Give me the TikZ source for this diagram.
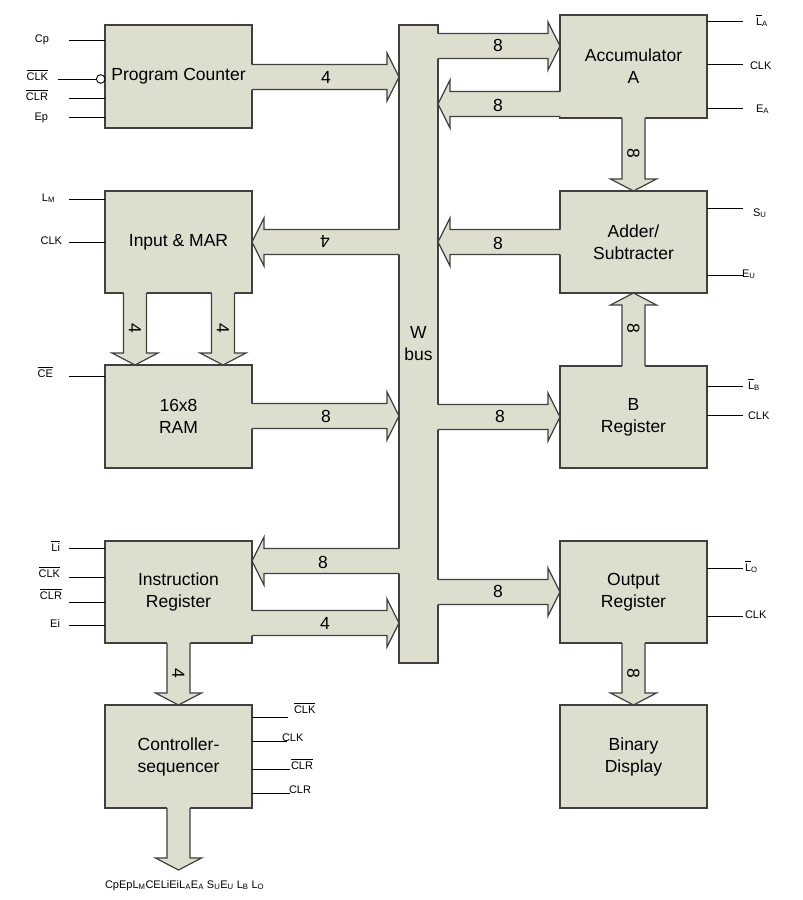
\documentclass[tikz,border=0pt]{standalone}
\usepackage{fontspec}
\setmainfont{Liberation Sans}
\usetikzlibrary{calc}
\definecolor{boxfill}{RGB}{221,222,206}
\definecolor{boxline}{RGB}{64,64,64}
\newcommand\olbar[1]{\vbox{\hrule height 0.6pt\kern1.8pt\hbox{#1}}}
\newcommand\mysub[1]{\textsubscript{#1}}
\def\sh{12.5pt}\def\hh{24pt}\def\hl{12pt}\def\vs{11.5pt}\def\vh{23pt}
\tikzset{
  blk/.style={draw=boxline, fill=boxfill, line width=1.2pt, minimum width=147, minimum height=103,
    anchor=north west, align=center, font=\fontsize{17.5}{22}\selectfont, outer sep=0pt, inner sep=0pt},
  arrfill/.style={fill=boxfill},
  arrline/.style={draw=boxline, line width=1.2pt, line join=miter},
  pin/.style={draw=black, line width=0.9pt},
  pinlbl/.style={font=\fontsize{11}{13}\selectfont, inner sep=0pt, outer sep=0pt},
  lbl/.style={font=\fontsize{17.5}{20}\selectfont, inner sep=0pt}
}
\newcommand\harr[2]{%
  \fill[arrfill] let \p1=#1, \p2=#2, \n1={ifthenelse(\x2>\x1,1,-1)} in
    ({\x1-(\n1)*1.5pt},{\y1+\sh}) -- ({\x2-(\n1)*\hl},{\y1+\sh}) -- ({\x2-(\n1)*\hl},{\y1+\hh})
    -- (\x2,\y1) -- ({\x2-(\n1)*\hl},{\y1-\hh}) -- ({\x2-(\n1)*\hl},{\y1-\sh})
    -- ({\x1-(\n1)*1.5pt},{\y1-\sh}) -- cycle;
  \draw[arrline] let \p1=#1, \p2=#2, \n1={ifthenelse(\x2>\x1,1,-1)} in
    (\x1,{\y1+\sh}) -- ({\x2-(\n1)*\hl},{\y1+\sh}) -- ({\x2-(\n1)*\hl},{\y1+\hh})
    -- (\x2,\y1) -- ({\x2-(\n1)*\hl},{\y1-\hh}) -- ({\x2-(\n1)*\hl},{\y1-\sh})
    -- (\x1,{\y1-\sh});}
\newcommand\varr[2]{%
  \fill[arrfill] let \p1=#1, \p2=#2, \n1={ifthenelse(\y2>\y1,1,-1)} in
    ({\x1+\vs},{\y1-(\n1)*1.5pt}) -- ({\x1+\vs},{\y2-(\n1)*\hl}) -- ({\x1+\vh},{\y2-(\n1)*\hl})
    -- (\x1,\y2) -- ({\x1-\vh},{\y2-(\n1)*\hl}) -- ({\x1-\vs},{\y2-(\n1)*\hl})
    -- ({\x1-\vs},{\y1-(\n1)*1.5pt}) -- cycle;
  \draw[arrline] let \p1=#1, \p2=#2, \n1={ifthenelse(\y2>\y1,1,-1)} in
    ({\x1+\vs},\y1) -- ({\x1+\vs},{\y2-(\n1)*\hl}) -- ({\x1+\vh},{\y2-(\n1)*\hl})
    -- (\x1,\y2) -- ({\x1-\vh},{\y2-(\n1)*\hl}) -- ({\x1-\vs},{\y2-(\n1)*\hl})
    -- ({\x1-\vs},\y1);}
\begin{document}
\begin{tikzpicture}[x=1pt,y=-1pt]
\useasboundingbox (0,0) rectangle (803,900);
\fill[white] (0,0) rectangle (803,900);
% boxes
\node[blk] (pc) at (105,25) {Program Counter};
\node[blk, minimum height=102] (mar) at (105,191) {Input \& MAR};
\node[blk] (ram) at (105,365) {16x8\\RAM};
\node[blk, minimum height=102] (ir) at (105,541) {Instruction\\Register};
\node[blk] (ctrl) at (105,705) {Controller-\\sequencer};
\node[blk, minimum width=39, minimum height=638] (bus) at (399,25) {W\\bus};
\node[blk] (acc) at (560,15) {Accumulator\\A};
\node[blk, minimum height=102] (add) at (560,191) {Adder/\\Subtracter};
\node[blk, minimum height=102] (breg) at (560,366) {B\\Register};
\node[blk, minimum height=102] (out) at (560,541) {Output\\Register};
\node[blk] (disp) at (560,705) {Binary\\Display};
\coordinate (sigs) at (178.5,870);
% block arrows
\harr{(pc.east |- 0,77)}{(bus.west |- 0,77)}
\harr{(bus.west |- 0,242)}{(mar.east |- 0,242)}
\harr{(ram.east |- 0,416)}{(bus.west |- 0,416)}
\harr{(bus.west |- 0,561)}{(ir.east |- 0,561)}
\harr{(ir.east |- 0,623)}{(bus.west |- 0,623)}
\harr{(bus.east |- 0,46)}{(acc.west |- 0,46)}
\harr{(acc.west |- 0,104)}{(bus.east |- 0,104)}
\harr{(add.west |- 0,242)}{(bus.east |- 0,242)}
\harr{(bus.east |- 0,417)}{(breg.west |- 0,417)}
\harr{(bus.east |- 0,592)}{(out.west |- 0,592)}
\varr{(mar.south -| 135,0)}{(ram.north -| 135,0)}
\varr{(mar.south -| 223,0)}{(ram.north -| 223,0)}
\varr{(acc.south)}{(add.north)}
\varr{(breg.north)}{(add.south)}
\varr{(out.south)}{(disp.north)}
\varr{(ir.south)}{(ctrl.north)}
\varr{(ctrl.south)}{(sigs)}
% arrow labels
\node[lbl] (w1) at (326,77) {4};
\node[lbl, rotate=180] (w2) at (325,242) {4};
\node[lbl] (w3) at (326,416) {8};
\node[lbl] (w4) at (323,562) {8};
\node[lbl] (w5) at (325,623) {4};
\node[lbl] (w6) at (498,45) {8};
\node[lbl] (w7) at (498,105) {8};
\node[lbl] (w8) at (498,243) {8};
\node[lbl] (w9) at (500,416) {8};
\node[lbl] (w10) at (498,591) {8};
\node[lbl, rotate=-90] (v1) at (135,328) {4};
\node[lbl, rotate=-90] (v2) at (223,328) {4};
\node[lbl, rotate=-90] (v3) at (633.5,153) {8};
\node[lbl, rotate=-90] (v4) at (633.5,328) {8};
\node[lbl, rotate=-90] (v5) at (633.5,673) {8};
\node[lbl, rotate=-90] (v6) at (178.5,673) {4};
% left pins: program counter
\draw[pin] (pc.west |- 0,40) -- ++(-36,0);
\node[pinlbl, anchor=base east] (pcp) at (49,42) {Cp};
\node[circle, draw=black, line width=0.9pt, fill=white, inner sep=0pt, outer sep=0pt, minimum size=8.6, anchor=east] (pcbub) at (pc.west |- 0,79) {};
\draw[pin] (pcbub.west) -- ++(-38,0);
\node[pinlbl, anchor=base east] (pcclk) at (48,80) {\olbar{CLK}};
\draw[pin] (pc.west |- 0,98) -- ++(-36,0);
\node[pinlbl, anchor=base east] (pcclr) at (48,100) {\olbar{CLR}};
\draw[pin] (pc.west |- 0,117) -- ++(-36,0);
\node[pinlbl, anchor=base east] (pcep) at (48,120) {Ep};
% MAR
\draw[pin] (mar.west |- 0,199) -- ++(-36,0);
\node[pinlbl, anchor=base east] (marlm) at (55,201) {L\mysub{M}};
\draw[pin] (mar.west |- 0,242) -- ++(-36,0);
\node[pinlbl, anchor=base east] (marclk) at (62,244) {CLK};
% RAM
\draw[pin] (ram.west |- 0,376) -- ++(-36,0);
\node[pinlbl, anchor=base east] (ramce) at (53,377) {\olbar{CE}};
% IR
\draw[pin] (ir.west |- 0,548) -- ++(-36,0);
\node[pinlbl, anchor=base east] (irli) at (60,551) {\olbar{Li}};
\draw[pin] (ir.west |- 0,577) -- ++(-36,0);
\node[pinlbl, anchor=base east] (irclk) at (60,577) {\olbar{CLK}};
\draw[pin] (ir.west |- 0,602) -- ++(-36,0);
\node[pinlbl, anchor=base east] (irclr) at (62,599) {\olbar{CLR}};
\draw[pin] (ir.west |- 0,625) -- ++(-36,0);
\node[pinlbl, anchor=base east] (irei) at (60,627) {Ei};
% right pins
\draw[pin] (acc.east |- 0,21) -- ++(36,0);
\node[pinlbl, anchor=base west] (acla) at (756,25) {\olbar{L}\mysub{A}};
\draw[pin] (acc.east |- 0,64) -- ++(36,0);
\node[pinlbl, anchor=base west] (acclk) at (750,69) {CLK};
\draw[pin] (acc.east |- 0,108) -- ++(36,0);
\node[pinlbl, anchor=base west] (acea) at (756,112) {E\mysub{A}};
\draw[pin] (add.east |- 0,208) -- ++(36,0);
\node[pinlbl, anchor=base west] (adsu) at (753,216) {S\mysub{U}};
\draw[pin] (add.east |- 0,275) -- ++(36,0);
\node[pinlbl, anchor=base west] (adeu) at (742,277) {E\mysub{U}};
\draw[pin] (breg.east |- 0,386) -- ++(36,0);
\node[pinlbl, anchor=base west] (blb) at (748,389) {\olbar{L}\mysub{B}};
\draw[pin] (breg.east |- 0,415) -- ++(36,0);
\node[pinlbl, anchor=base west] (bclk) at (748,419) {CLK};
\draw[pin] (out.east |- 0,568) -- ++(36,0);
\node[pinlbl, anchor=base west] (olo) at (745,571) {\olbar{L}\mysub{O}};
\draw[pin] (out.east |- 0,616) -- ++(36,0);
\node[pinlbl, anchor=base west] (oclk) at (745,618) {CLK};
% controller pins
\draw[pin] (ctrl.east |- 0,717) -- ++(36,0);
\node[pinlbl, anchor=base west] (cclkb) at (294,713) {\olbar{CLK}};
\draw[pin] (ctrl.east |- 0,741) -- ++(35,0);
\node[pinlbl, anchor=base west] (cclk) at (282,741) {CLK};
\draw[pin] (ctrl.east |- 0,769) -- ++(38,0);
\node[pinlbl, anchor=base west] (cclrb) at (291,769) {\olbar{CLR}};
\draw[pin] (ctrl.east |- 0,793) -- ++(38,0);
\node[pinlbl, anchor=base west] (cclr) at (289,793) {CLR};
% control word
\node[pinlbl, anchor=base west] (cword) at (105,888) {CpEpL\mysub{M}CELiEiL\mysub{A}E\mysub{A} S\mysub{U}E\mysub{U} L\mysub{B} L\mysub{O}};
\end{tikzpicture}
\end{document}
